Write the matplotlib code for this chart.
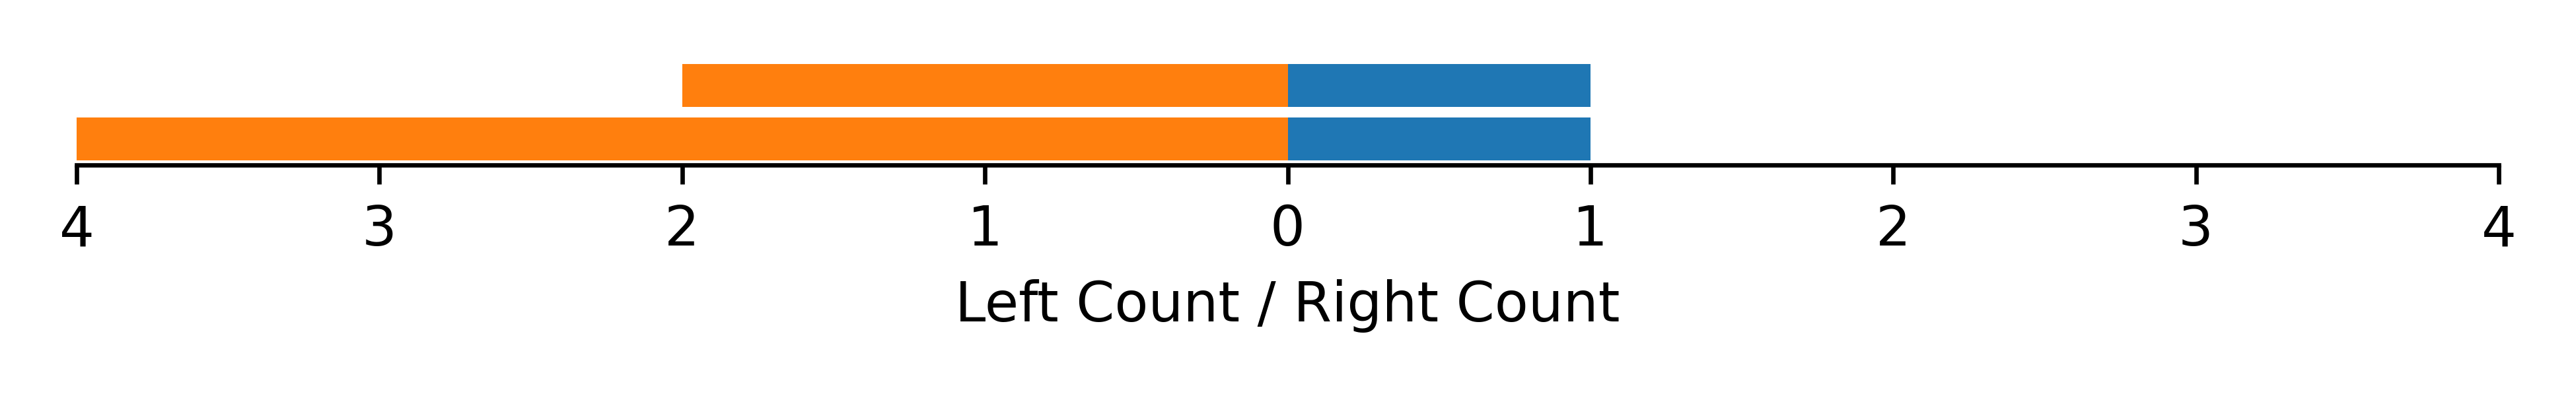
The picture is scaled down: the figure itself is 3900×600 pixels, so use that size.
import matplotlib
matplotlib.use("Agg")
import matplotlib.pyplot as plt
import numpy as np

# rows from bottom to top
rows = ["row 1", "row 2"]
left_counts = [4, 2]
right_counts = [1, 1]
tick_values = [-4, -3, -2, -1, 0, 1, 2, 3, 4]

fig, ax = plt.subplots(figsize=(6.5, 1), dpi=600)
fig.subplots_adjust(left=116 / 3900, right=3783 / 3900, bottom=0.5833, top=0.85)

y = np.arange(len(rows))
ax.barh(y, [-v for v in left_counts], color="tab:orange", height=0.8)
ax.barh(y, right_counts, color="tab:blue", height=0.8)

ax.set_xlim(-4, 4)
ax.set_xticks(tick_values)
ax.set_xticklabels([str(abs(t)) for t in tick_values])
ax.set_yticks([])
ax.set_xlabel("Left Count / Right Count")

for side in ["top", "left", "right"]:
    ax.spines[side].set_visible(False)

fig.savefig("out.png", dpi=600)
